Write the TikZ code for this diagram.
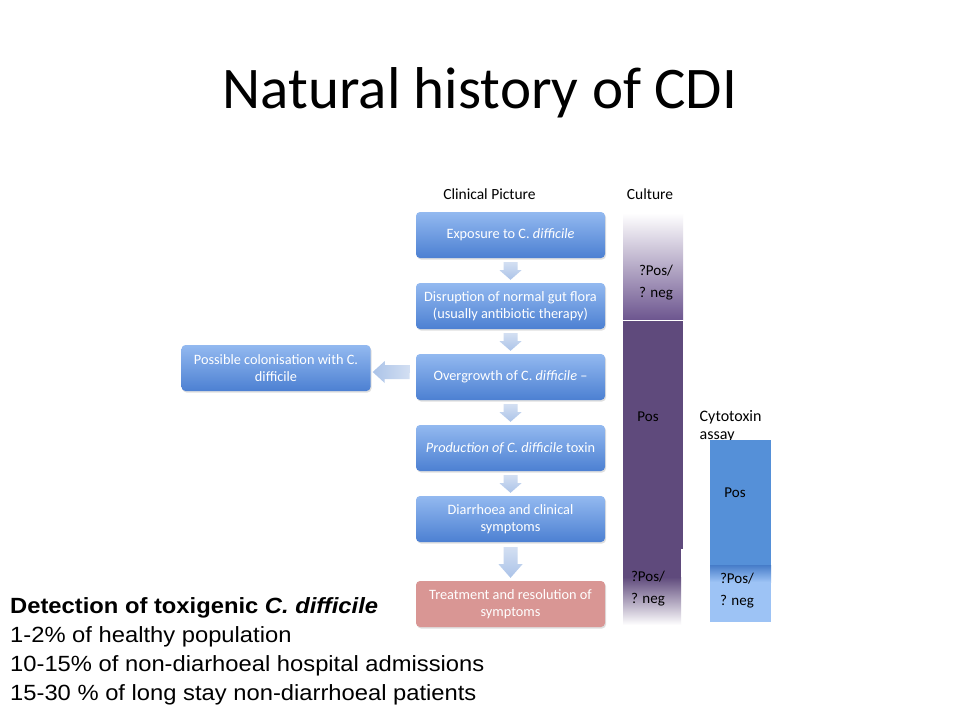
\documentclass[tikz,border=0pt]{standalone}
\usepackage{fontspec}
\setmainfont{Carlito}
\newfontfamily\arialf[FakeStretch=1.08]{Liberation Sans}
\usetikzlibrary{shadows,calc}
\definecolor{boxtop}{HTML}{93B9F0}
\definecolor{boxbot}{HTML}{4C80D2}
\definecolor{redbox}{HTML}{D99694}
\definecolor{arrtop}{HTML}{D3DFF2}
\definecolor{arrbot}{HTML}{ABC3E8}
\definecolor{purp}{HTML}{5F4A7C}
\definecolor{purpl}{HTML}{6E5790}
\definecolor{cytob}{HTML}{5590D8}
\definecolor{cytod}{HTML}{467CC8}
\definecolor{cytol}{HTML}{9DC3F5}
\tikzset{
  flowbox/.style={rounded corners=4pt, minimum width=189pt, minimum height=46pt,
    top color=boxtop, bottom color=boxbot, draw=none, text=white,
    font=\fontsize{14.3}{16.5}\selectfont, align=center, inner sep=2pt,
    drop shadow={shadow xshift=1pt, shadow yshift=-1.5pt, opacity=0.25}},
  treatbox/.style={flowbox, top color=redbox, bottom color=redbox},
  lbl/.style={font=\fontsize{15.5}{18}\selectfont, text=black, inner sep=0pt},
  collbl/.style={font=\fontsize{15}{22}\selectfont, text=black, align=left, inner sep=0pt},
  detline/.style={font=\arialf\fontsize{22}{26}\selectfont, anchor=base west, inner sep=0pt},
}
\begin{document}
\begin{tikzpicture}[x=1pt,y=-1pt]
\useasboundingbox (0,0) rectangle (960,720);
\fill[white] (0,0) rectangle (960,720);

% title
\node[font=\fontsize{59}{62}\selectfont, anchor=base, inner sep=0pt] (title) at (480,108) {Natural history of CDI};

% column labels
\node[lbl] (cp) at (489.5,194) {Clinical Picture};
\node[lbl] (cul) at (650,194) {Culture};

% flow boxes
\node[flowbox] (b1) at (510.5,235) {Exposure to C. \textit{difficile}};
\node[flowbox] (b2) at (510.5,306) {Disruption of normal gut flora\\(usually antibiotic therapy)};
\node[flowbox] (b3) at (510.5,377) {Overgrowth of C. \textit{difficile} –};
\node[flowbox] (b4) at (510.5,448) {\textit{Production of C. difficile} toxin};
\node[flowbox] (b5) at (510.5,519) {Diarrhoea and clinical\\symptoms};
\node[treatbox] (b6) at (510.5,604) {Treatment and resolution of\\symptoms};
\node[flowbox] (lb) at (276,368) {Possible colonisation with C.\\difficile};

% down arrows
\foreach \a/\b in {b1/b2,b2/b3,b3/b4,b4/b5}{
  \path (\a.south) ++(0,4) coordinate (\a-s);
  \shade[top color=arrtop, bottom color=arrbot]
    ($(\a-s)+(-7,0)$) -- ++(14,0) -- ++(0,8) -- ++(4,0) -- ($(\b.north)+(0,-3)$) -- ($(\a-s)+(-11,8)$) -- ++(4,0) -- cycle;
}
% bigger arrow b5 -> b6
\path (b5.south) ++(0,5) coordinate (b5-s);
\shade[top color=arrtop, bottom color=arrbot]
  ($(b5-s)+(-7,0)$) -- ++(14,0) -- ++(0,17) -- ++(5,0) -- ($(b6.north)+(0,-3)$) -- ($(b5-s)+(-12,17)$) -- ++(5,0) -- cycle;
% left arrow b3 -> lb
\coordinate (la) at ($(b3.west)+(-6,-5)$);
\shade[left color=arrbot, right color=arrtop]
  ($(la)+(0,-7)$) -- ++(-25,0) -- ++(0,-4) -- ($(lb.east)+(2,4)$) -- ++(12,11) -- ++(0,-4) -- ++(25,0) -- cycle;

% culture column
\shade[top color=white, bottom color=purpl] (623,213) rectangle (683,319);
\fill[purp] (623,321) rectangle (683,549);
\fill[purp] (623,548) rectangle (681,578);
\shade[top color=purp, bottom color=white] (623,577) rectangle (681,625);
\node[collbl] (c1) at (656,283) {?Pos/\\? neg};
\node[collbl] (c2) at (648,417) {Pos};
\node[collbl] (c3) at (648,589) {?Pos/\\? neg};

% cytotoxin column
\node[collbl, font=\fontsize{16}{18}\selectfont, anchor=north west] (cyl) at (699.5,410) {Cytotoxin\\assay};
\fill[cytob] (710,440) rectangle (771,565);
\shade[top color=cytod, bottom color=cytol] (710,565) rectangle (771,582);
\fill[cytol] (710,581.5) rectangle (771,622);
\node[collbl] (t1) at (735,493) {Pos};
\node[collbl] (t2) at (737,591) {?Pos/\\? neg};

% detection text
\node[detline, font=\arialf\bfseries\fontsize{22}{26}\selectfont] (d1) at (10,613) {Detection of toxigenic \textit{C. difficile}};
\node[detline] (d2) at (10,642) {1-2\% of healthy population};
\node[detline] (d3) at (10,671) {10-15\% of non-diarhoeal hospital admissions};
\node[detline] (d4) at (10,700) {15-30 \% of long stay non-diarrhoeal patients};
\end{tikzpicture}
\end{document}
